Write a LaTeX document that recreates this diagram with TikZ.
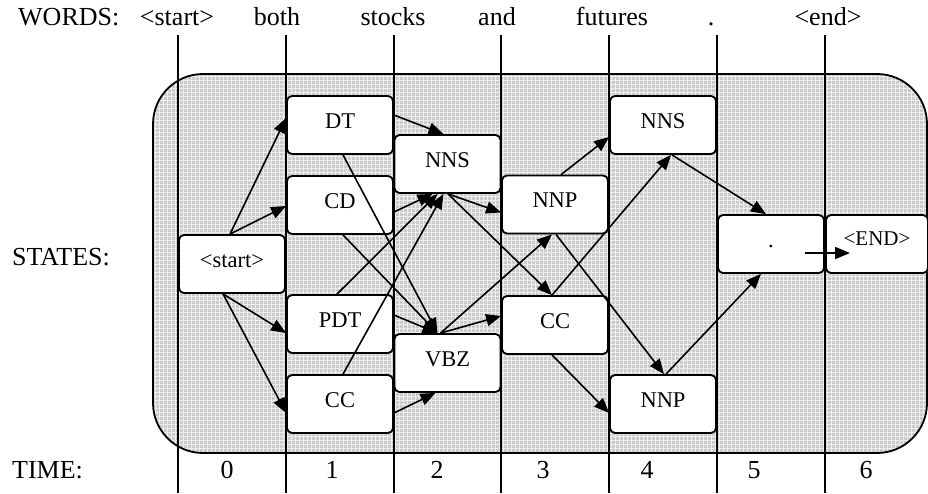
\documentclass[tikz,border=0pt]{standalone}
\usepackage{fontspec}
\setmainfont{Liberation Serif}
\usetikzlibrary{arrows.meta,calc}
\begin{document}
\begin{tikzpicture}[x=1pt,y=-1pt,
  stbox/.style={draw, line width=1.8pt, rounded corners=5pt, fill=white,
    minimum width=106pt, minimum height=58pt, inner sep=0pt,
    text height=16pt, text depth=10pt, font=\fontsize{22.5}{27}\selectfont},
  lbl/.style={font=\fontsize{26}{30}\selectfont, anchor=base, inner sep=0pt},
  conn/.style={line width=1.6pt, -{Triangle[length=15pt,width=12pt]}},
  tline/.style={line width=1.6pt}]
\useasboundingbox (0,0) rectangle (928,493);

% background panel
\begin{scope}
\clip[rounded corners=50pt] (153,74) rectangle (927,453);
\fill[black!20] (153,74) rectangle (927,453);
\foreach \x in {155,159,...,927} \draw[black!7, line width=0.9pt] (\x,74) -- (\x,453);
\foreach \y in {76,80,...,453} \draw[black!7, line width=0.9pt] (153,\y) -- (927,\y);
\end{scope}
\draw[line width=1.8pt, rounded corners=50pt] (153,74) rectangle (927,453);

% time lines
\foreach \x in {178,286,394,501,609,717,825} \draw[tline] (\x,35) -- (\x,493);

% row labels
\node[lbl, anchor=base west] (wl) at (18,25) {WORDS:};
\node[lbl, anchor=base west] (sl) at (12,265) {STATES:};
\node[lbl, anchor=base west] (tl) at (12,478) {TIME:};

% words
\node[lbl] (w0) at (177,25) {<start>};
\node[lbl] (w1) at (277,25) {both};
\node[lbl] (w2) at (393,25) {stocks};
\node[lbl] (w3) at (497,25) {and};
\node[lbl] (w4) at (612,25) {futures};
\node[lbl] (w5) at (711,25) {.};
\node[lbl] (w6) at (828,25) {<end>};

% time numbers
\node[lbl] (t0) at (227,478) {0};
\node[lbl] (t1) at (332,478) {1};
\node[lbl] (t2) at (437,478) {2};
\node[lbl] (t3) at (543,478) {3};
\node[lbl] (t4) at (647,478) {4};
\node[lbl] (t5) at (754,478) {5};
\node[lbl] (t6) at (866,478) {6};

% states
\node[stbox] (s0) at (232,264) {<start>};
\node[stbox] (dt) at (340,125) {DT};
\node[stbox] (cd) at (340,205) {CD};
\node[stbox] (pdt) at (340,324) {PDT};
\node[stbox] (cca) at (340,404) {CC};
\node[stbox] (nns) at (447.5,164) {NNS};
\node[stbox] (vbz) at (447.5,363) {VBZ};
\node[stbox] (nnp) at (555,204.5) {NNP};
\node[stbox] (ccb) at (555,325) {CC};
\node[stbox] (nnsb) at (663,125) {NNS};
\node[stbox] (nnpb) at (663,404) {NNP};
\node[stbox] (dot) at (771,244) {.};
\node[stbox, minimum width=102pt, text height=14pt, text depth=12pt,
  font=\fontsize{21}{25}\selectfont] (endb) at (877,244) {<END>};

% transitions
\draw[conn] ($(s0.north)+(-2,0)$) -- ($(dt.west)+(0,-7)$);
\draw[conn] ($(s0.north)+(-2,0)$) -- ($(cd.west)+(0,1)$);
\draw[conn] ($(s0.south)+(-9,0)$) -- ($(pdt.west)+(0,9)$);
\draw[conn] ($(s0.south)+(-9,0)$) -- ($(cca.west)+(0,9)$);

\draw[conn] ($(dt.east)+(0,-10)$) -- ($(nns.north)+(-4,0)$);
\draw[conn] ($(dt.south)+(3,0)$) -- ($(vbz.north)+(-10,0)$);
\draw[conn] ($(cd.south)+(3,0)$) -- ($(vbz.north)+(-10,0)$);
\draw[conn] ($(cd.east)+(0,7)$) -- ($(nns.south)+(-15,0)$);
\draw[conn] ($(pdt.north)+(-3,0)$) -- ($(nns.south)+(-10,0)$);
\draw[conn] ($(pdt.east)+(0,-9)$) -- ($(vbz.north)+(-10,0)$);
\draw[conn] ($(cca.north)+(3,0)$) -- ($(nns.south)+(-4,0)$);
\draw[conn] ($(cca.east)+(0,9)$) -- ($(vbz.south)+(-12,0)$);

\draw[conn] ($(nns.south)+(0.5,0)$) -- ($(nnp.west)+(0,8)$);
\draw[conn] ($(nns.south)+(0.5,0)$) -- ($(ccb.north)+(-3,0)$);
\draw[conn] ($(vbz.north)+(-7,0)$) -- ($(nnp.south)+(-3,0)$);
\draw[conn] ($(vbz.north)+(-7,0)$) -- ($(ccb.west)+(0,-9)$);

\draw[conn] ($(nnp.north)+(6,0)$) -- ($(nnsb.west)+(0,12)$);
\draw[conn] ($(nnp.south)+(1,0)$) -- ($(nnpb.north)+(1,0)$);
\draw[conn] ($(ccb.north)+(-3,0)$) -- ($(nnsb.south)+(8,0)$);
\draw[conn] ($(ccb.south)+(-3,0)$) -- ($(nnpb.west)+(0,9)$);

\draw[conn] ($(nnsb.south)+(9,0)$) -- ($(dot.north)+(-5,0)$);
\draw[conn] ($(nnpb.north)+(3,0)$) -- ($(dot.south)+(-10,0)$);
\draw[conn] ($(dot.center)+(34,9)$) -- ($(endb.center)+(-27,9)$);
\end{tikzpicture}
\end{document}
